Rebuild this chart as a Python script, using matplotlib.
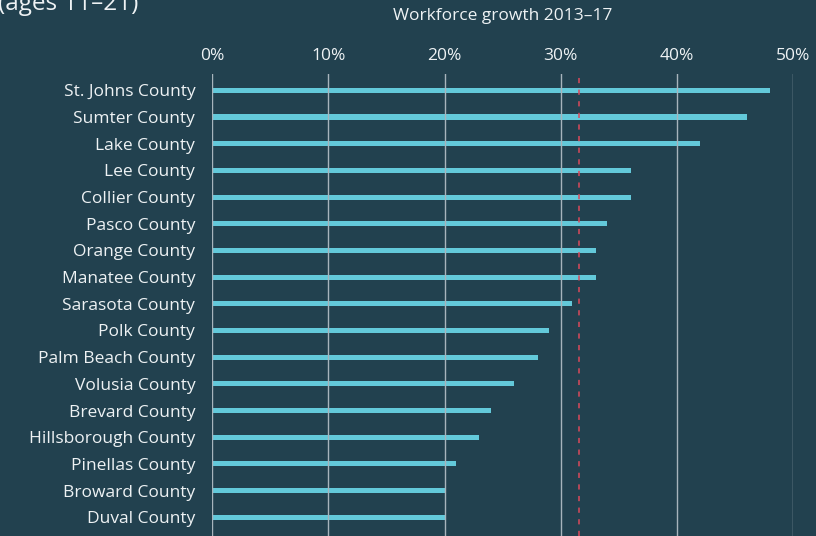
import matplotlib
matplotlib.use("Agg")
import matplotlib.pyplot as plt

counties = [
    "St. Johns County", "Sumter County", "Lake County", "Lee County",
    "Collier County", "Pasco County", "Orange County", "Manatee County",
    "Sarasota County", "Polk County", "Palm Beach County", "Volusia County",
    "Brevard County", "Hillsborough County", "Pinellas County",
    "Broward County", "Duval County",
]
growth = [48, 46, 42, 36, 36, 34, 33, 33, 31, 29, 28, 26, 24, 23, 21, 20, 20]
state_avg = 31.6
x_ticks = [0, 10, 20, 30, 40, 50]
x_tick_labels = ["0%", "10%", "20%", "30%", "40%", "50%"]

BG = "#22414f"
BAR = "#63c9da"
TEXT = "#eef2f4"
GRID = "#a7b4bc"
RED = "#dc4a5c"

plt.rcParams["font.family"] = ["Open Sans", "DejaVu Sans"]

fig = plt.figure(figsize=(8.16, 5.36), dpi=100, facecolor=BG)
ax = fig.add_axes([212 / 816, 0, (793.3 - 212) / 816, 1 - 74 / 536])
ax.set_facecolor(BG)

pos = list(range(len(counties)))
ax.barh(pos, growth, height=0.19, color=BAR, zorder=2)

ax.set_xlim(0, 50)
ax.set_ylim(16.70, -0.61)

ax.set_xticks(x_ticks)
ax.set_xticklabels(x_tick_labels)
ax.xaxis.tick_top()
ax.tick_params(axis="x", length=0, pad=7, labelsize=12.5, colors=TEXT)
ax.set_yticks(pos)
ax.set_yticklabels(counties)
ax.tick_params(axis="y", length=0, pad=12, labelsize=12.5, colors=TEXT)

for v in x_ticks:
    ax.axvline(v, color=GRID, lw=1, zorder=3)

ax.axvline(state_avg, color=RED, lw=1.1, dashes=(3.4, 4.2), zorder=4)

for s in ax.spines.values():
    s.set_visible(False)

fig.text(503 / 816, 1 - 16 / 536, "Workforce growth 2013\u201317",
         ha="center", va="center", color=TEXT, fontsize=12.5)
fig.text(-0.002, 1 - 10 / 536, "(ages 11\u201321)", ha="left", va="baseline",
         color=TEXT, fontsize=17.5)

fig.savefig("out.png", dpi=100, facecolor=BG)
